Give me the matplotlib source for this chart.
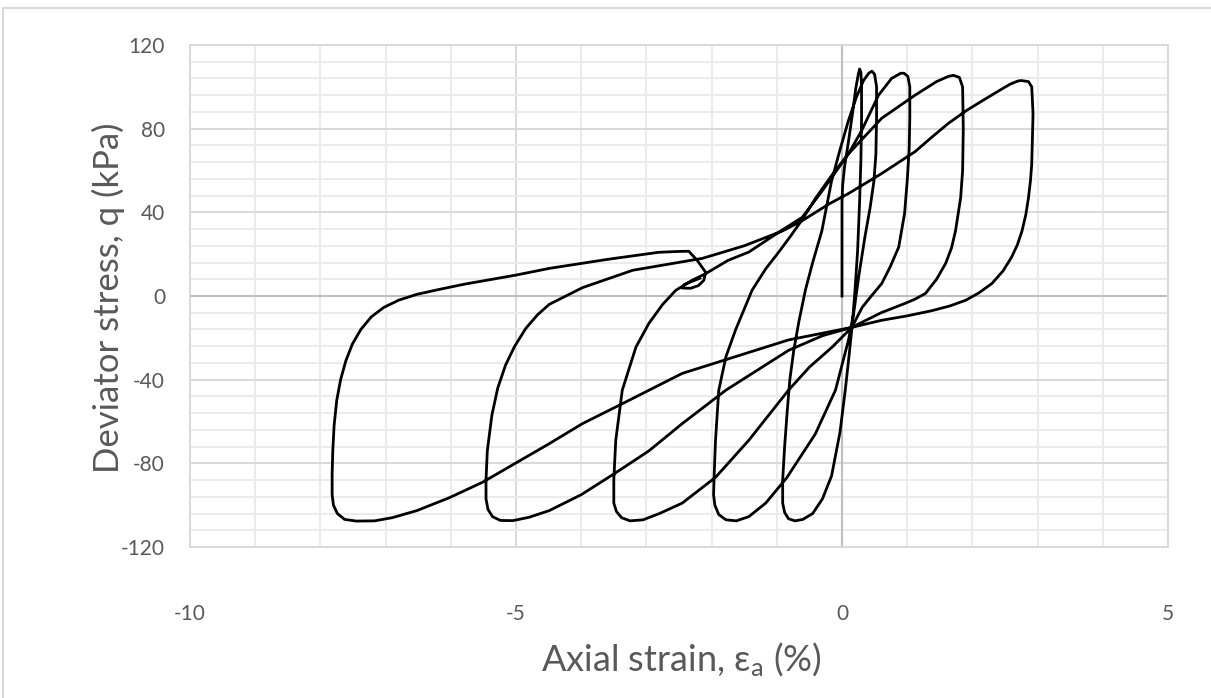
import numpy as np
import matplotlib
matplotlib.use("Agg")
import matplotlib.pyplot as plt
from matplotlib.lines import Line2D
from matplotlib.ticker import MultipleLocator

plt.rcParams['font.family'] = ['Lato', 'DejaVu Sans']
plt.rcParams['mathtext.default'] = 'regular'
plt.rcParams['axes.unicode_minus'] = False

# cyclic triaxial test: axial strain (%) vs deviator stress (kPa), one segment per half cycle
initial_strain = [0.00, 0.00, 0.00, 0.00, 0.01, 0.04, 0.10, 0.16, 0.21, 0.25, 0.27]
initial_q = [0, 15, 30, 45, 53, 62, 74, 87, 99, 106, 108.5]

unload1_strain = [0.27, 0.29, 0.30, 0.30, 0.29, 0.27, 0.24, 0.20, 0.16, 0.11, 0.05, -0.03,
                  -0.16, -0.30, -0.45, -0.60, -0.72, -0.82, -0.88, -0.91]
unload1_q = [108.5, 107, 100, 85, 65, 45, 22, 3, -13, -28, -45, -65,
             -86, -97, -104, -106.8, -107.5, -106.5, -103.5, -99]

reload1_strain = [-0.91, -0.91, -0.88, -0.84, -0.80, -0.74, -0.66, -0.56, -0.45, -0.31, -0.16,
                  -0.03, 0.10, 0.22, 0.33, 0.41, 0.46]
reload1_q = [-99, -88, -72, -55, -40, -26, -12, 3, 16, 31, 55,
             70, 84, 95, 103, 106.5, 107.5]

unload2_strain = [0.46, 0.50, 0.53, 0.53, 0.52, 0.49, 0.43, 0.35, 0.26, 0.18, 0.10, -0.10,
                  -0.41, -0.85, -1.17, -1.43, -1.62, -1.78, -1.89, -1.95, -1.97]
unload2_q = [107.5, 106, 100, 85, 68, 55, 42, 28, 10, -8, -21, -45,
             -66, -87, -99, -105.5, -107.5, -107, -104.5, -100, -95]

reload2_strain = [-1.97, -1.96, -1.94, -1.89, -1.78, -1.63, -1.38, -1.17, -0.97, -0.78, -0.60,
                  -0.40, -0.15, 0.10, 0.30, 0.56, 0.76, 0.90, 0.95]
reload2_q = [-95, -85, -69, -45, -29, -16, 2.7, 13, 21, 29, 37,
             47, 58, 68, 79, 96, 104, 106.5, 106.5]

unload3_strain = [0.95, 1.01, 1.04, 1.04, 1.03, 1.00, 0.96, 0.87, 0.74, 0.61, 0.45, 0.31, 0.15,
                  -0.15, -0.50, -0.82, -1.43, -1.94, -2.45, -2.80, -3.05, -3.25, -3.38,
                  -3.46, -3.50]
unload3_q = [106.5, 105, 100, 85, 70, 55, 39.5, 23.4, 14, 6, 0, -5.4, -15,
             -24.4, -34, -45, -69, -86.7, -99, -104, -107, -107.5, -106,
             -103, -99]

reload3_strain = [-3.50, -3.50, -3.47, -3.37, -3.16, -2.96, -2.75, -2.55, -2.30, -2.09, -1.75,
                  -1.43, -0.92, -0.61, -0.31, 0.10, 0.61, 1.12, 1.45, 1.63, 1.71]
reload3_q = [-99, -88, -69, -45, -24.4, -13, -4, 2.7, 7.5, 10.7, 17,
             21, 31.5, 37.6, 50, 68, 85, 96, 102.5, 105, 105.5]

unload4_strain = [1.71, 1.80, 1.85, 1.86, 1.85, 1.82, 1.74, 1.68, 1.59, 1.45, 1.28, 1.12,
                  0.97, 0.60, 0.15, -0.30, -0.82, -1.78, -2.45, -2.96, -3.47, -4.00, -4.49,
                  -4.80, -5.05, -5.24, -5.36, -5.43, -5.46]
unload4_q = [105.5, 104.5, 100, 80, 60, 47, 31, 23, 15.6, 8, 1.2, -1.5,
             -3.5, -8, -15, -19, -26, -45, -61, -74, -84.5, -95, -102.6,
             -105.8, -107.4, -107.3, -105.5, -102, -97]

reload4_strain = [-5.46, -5.46, -5.44, -5.37, -5.28, -5.16, -5.02, -4.85, -4.67, -4.49, -3.98,
                  -3.21, -2.14, -1.50, -0.92, -0.61, -0.20, 0.10, 0.61, 1.12, 1.38, 1.63,
                  1.90, 2.15, 2.40, 2.58, 2.70, 2.75]
reload4_q = [-97, -88, -74, -57, -44, -33, -24, -15.5, -9, -4, 4,
             12.3, 18, 24, 31, 36, 44, 49, 58.6, 69, 76, 82.5,
             88.5, 93.3, 98, 101.3, 102.8, 103]

unload5_strain = [2.75, 2.86, 2.91, 2.93, 2.92, 2.91, 2.89, 2.86, 2.82, 2.76, 2.69, 2.60,
                  2.47, 2.30, 2.10, 1.90, 1.65, 1.38, 1.00, 0.61, 0.15, -0.82, -1.74,
                  -2.45, -3.37, -3.98, -4.49, -5.51, -6.02, -6.52, -6.90, -7.17, -7.45,
                  -7.63, -7.74, -7.80, -7.82]
unload5_q = [103, 102.5, 100, 87, 75, 63, 55, 47, 39, 31, 24.5, 18.5,
             12, 6, 1.5, -2, -4.8, -7, -9.5, -11.6, -15, -21, -30,
             -37, -51.5, -61, -70.6, -89, -96.4, -102.6, -106, -107.5, -107.6,
             -106.8, -104, -100, -95]

final_strain = [-7.82, -7.82, -7.81, -7.79, -7.75, -7.69, -7.61, -7.51, -7.38, -7.22, -7.03,
                -6.80, -6.52, -6.17, -5.80, -5.40, -5.00, -4.49, -3.60, -2.81, -2.50,
                -2.35, -2.22, -2.09, -2.12, -2.20, -2.32, -2.45, -2.42, -2.30, -2.18]
final_q = [-95, -85, -74, -62, -50, -40, -31, -23, -16, -10, -5.5,
           -2, 0.8, 3.2, 5.6, 7.8, 10, 13.2, 17.5, 20.9, 21.3,
           21.4, 17, 11.3, 7.5, 5, 3.7, 3.8, 5.5, 7, 8.5]

segments = [
    (initial_strain, initial_q),
    (unload1_strain, unload1_q), (reload1_strain, reload1_q),
    (unload2_strain, unload2_q), (reload2_strain, reload2_q),
    (unload3_strain, unload3_q), (reload3_strain, reload3_q),
    (unload4_strain, unload4_q), (reload4_strain, reload4_q),
    (unload5_strain, unload5_q), (final_strain, final_q),
]
strain = np.concatenate([np.asarray(s) for s, _ in segments])
stress = np.concatenate([np.asarray(q) for _, q in segments])

W, H = 1211, 698
fig = plt.figure(figsize=(W / 100, H / 100), dpi=100)
ax = fig.add_axes([190 / W, 1 - 547 / H, (1168 - 190) / W, (547 - 45) / H])

ax.set_xlim(-10, 5)
ax.set_ylim(-120, 120)
ax.xaxis.set_major_locator(MultipleLocator(5))
ax.xaxis.set_minor_locator(MultipleLocator(1))
ax.yaxis.set_major_locator(MultipleLocator(40))
ax.yaxis.set_minor_locator(MultipleLocator(8))

ax.grid(which='minor', color='#ebebeb', lw=1.4)
ax.grid(which='major', color='#d9d9d9', lw=1.4)
ax.axhline(0, color='#bfbfbf', lw=1.5, zorder=1)
ax.axvline(0, color='#bfbfbf', lw=1.5, zorder=1)
ax.set_axisbelow(True)
for sp in ax.spines.values():
    sp.set_color('#d9d9d9')
    sp.set_linewidth(1.4)

ax.tick_params(which='both', length=0, labelsize=15, colors='#595959')
ax.tick_params(axis='x', pad=41)
ax.tick_params(axis='y', pad=18)

ax.plot(strain, stress, color='black', lw=2.0, solid_joinstyle='round', zorder=3)

fig.text(681 / W, 1 - 660 / H, 'Axial strain, ε$_a$ (%)', ha='center', va='center',
         fontsize=26, color='#595959')
fig.text(108 / W, 1 - 298 / H, 'Deviator stress, q (kPa)', ha='center', va='center',
         rotation=90, fontsize=25, color='#595959')

# chart-area frame along the top and left edges
fig.add_artist(Line2D([3 / W, 1], [1 - 8 / H, 1 - 8 / H], color='#d9d9d9', lw=1.5))
fig.add_artist(Line2D([3 / W, 3 / W], [0, 1 - 8 / H], color='#d9d9d9', lw=1.5))

fig.savefig('out.png', dpi=100)
